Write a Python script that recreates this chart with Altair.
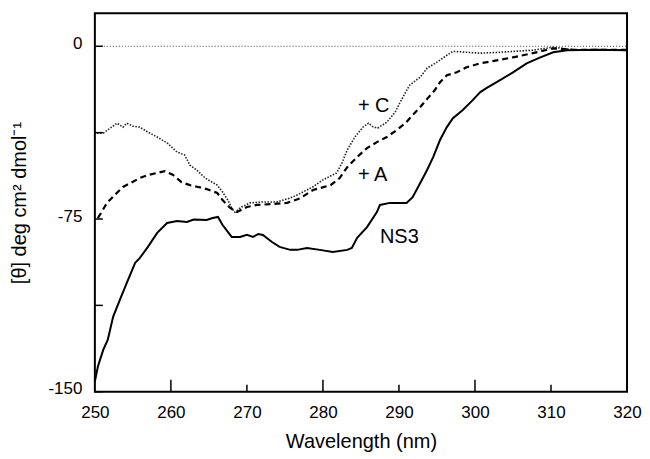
import altair as alt
import pandas as pd

# ---- data ----
wl_ns3 = [250.0, 250.4, 251.1, 251.7, 252.4, 253.3, 254.2, 255.3, 255.9, 257.0, 258.2, 259.5,
          260.8, 262.1, 263.0, 264.7, 265.5, 266.2, 266.8, 268.0, 269.1, 270.0, 270.8, 271.5,
          272.1, 273.3, 274.3, 275.7, 276.6, 277.9, 279.6, 281.3, 283.2, 283.8, 284.5, 285.8,
          287.1, 287.5, 288.8, 291.0, 291.8, 292.8, 293.7, 294.5, 295.4, 296.3, 297.1, 298.4,
          299.7, 300.7, 301.5, 303.3, 305.0, 306.8, 308.6, 310.3, 312.1, 316.0, 320.0]
th_ns3 = [-145.6, -139, -131.8, -127.4, -117.5, -110, -102.7, -94, -92, -87, -81, -76.7,
          -75.9, -76.3, -75.2, -75.4, -74.6, -74.1, -77.6, -82.8, -82.8, -81.9, -82.8, -81.5,
          -81.9, -85, -87.1, -88.4, -88.4, -87.6, -88.4, -89.3, -88.4, -87.6, -83.2, -78.5,
          -72, -68.9, -68, -68, -65.5, -59.4, -53.7, -48.1, -40.7, -35.1, -31.2, -27.7,
          -23.4, -19.9, -18.2, -14.7, -11.3, -7.4, -4.8, -2.6, -1.7, -1.5, -1.7]

wl_a = [250.4, 251.6, 252.6, 253.7, 254.9, 255.9, 257.0, 258.2, 259.2, 260.3, 261.4, 262.5,
        263.6, 264.7, 266.1, 266.8, 267.8, 268.7, 270.0, 271.3, 273.4, 275.3, 277.0, 278.7,
        281.0, 282.2, 283.2, 284.5, 285.8, 287.1, 288.4, 289.7, 291.0, 291.8, 292.8, 293.8,
        294.7, 295.4, 296.3, 297.6, 298.9, 300.7, 301.6, 305.0, 307.6, 310.3, 313.0, 320.0]
th_a = [-74.6, -68, -64.6, -61.1, -59, -57.2, -55.9, -55, -54.2, -55.9, -59, -60.3,
        -61.1, -62, -63.7, -66.8, -70.2, -72, -69.8, -68.9, -68.5, -68, -66, -62.4,
        -60.3, -57.2, -52.5, -48.1, -44.2, -41.6, -39.4, -36.4, -32.9, -29.9, -26.4, -22.5,
        -19.1, -15.6, -12.6, -11.3, -9.1, -7.4, -6.9, -4.8, -3.0, -0.9, -1.5, -1.5]

wl_c = [250.3, 251.1, 252.6, 252.9, 253.7, 254.2, 255.0, 255.9, 257.0, 258.2, 259.5, 260.8,
        261.8, 262.5, 263.4, 264.5, 266.1, 266.8, 267.5, 268.0, 268.4, 269.3, 270.4, 272.1,
        273.9, 275.7, 276.6, 278.7, 280.0, 281.8, 282.5, 283.2, 284.2, 285.3, 286.0, 286.6,
        287.2, 288.4, 289.5, 290.1, 290.8, 291.4, 292.8, 293.7, 295.0, 296.3, 297.1, 298.9,
        300.7, 303.3, 307.6, 310.3, 313.0, 320.0]
th_c = [-37.7, -37.7, -34.2, -33.4, -35.1, -33.4, -34.7, -35.1, -37.3, -39.4, -42, -45.9,
        -47.2, -51.6, -53.7, -57.2, -60.3, -63.3, -66.8, -70.2, -72, -69.8, -68, -67.6,
        -67.6, -65.9, -64.6, -61, -58, -55, -50.7, -45, -39.4, -35, -33.4, -35,
        -35.5, -33, -28.6, -24.7, -20.4, -16.9, -13.4, -9.5, -6.9, -3.9, -2.2, -2.6,
        -3, -2.6, -1.7, -0.4, -1.5, -1.5]

zero_wl = [250, 320]
zero_th = [0, 0]

ann_text = ["+ C", "+ A", "NS3"]
ann_wl = [284.6, 284.6, 287.5]
ann_th = [-26, -55.9, -82.8]

x_label_vals = [250, 260, 270, 280, 290, 300, 310, 320]
x_ticks_major = [260, 280, 300]
x_ticks_minor = [270, 290, 310]
y_label_vals = [0, -75, -150]
y_ticks = [0, -37.5, -75, -112.5, -150]

# ---- chart ----
W, H = 533, 379
FONT = "Liberation Sans"
xs = alt.Scale(domain=[250, 320], nice=False, zero=False)
ys = alt.Scale(domain=[-150, 14.3], nice=False, zero=False)

x_axis = alt.Axis(values=x_label_vals, tickSize=0, ticks=False, domain=False, grid=False,
                  labelPadding=13, labelFontSize=17, labelFont=FONT, labelColor="black",
                  labelFlush=False, labelOverlap=False, labelExpr="'' + datum.value",
                  title="Wavelength (nm)", titleFont=FONT, titleFontSize=20,
                  titleFontWeight="normal", titleColor="black",
                  titleY=40, titleBaseline="top")
y_axis = alt.Axis(values=y_label_vals, tickSize=0, ticks=False, domain=False, grid=False,
                  labelPadding=13, labelFontSize=17, labelFont=FONT, labelColor="black",
                  labelFlush=False, labelOverlap=False, labelOffset=-3,
                  labelExpr="'' + datum.value",
                  title="[θ] deg cm² dmol⁻¹", titleFont=FONT, titleFontSize=20,
                  titleFontWeight="normal", titleColor="black",
                  titleX=-75, titleY=H / 2, titleAngle=270,
                  titleAlign="center", titleBaseline="middle")


def X():
    return alt.X("wl:Q", scale=xs, axis=x_axis)


def Y():
    return alt.Y("th:Q", scale=ys, axis=y_axis)


def line_df(wl, th):
    return pd.DataFrame({"wl": wl, "th": th})


zero = alt.Chart(line_df(zero_wl, zero_th)).mark_line(
    color="#444", strokeWidth=1, strokeDash=[1, 2]
).encode(x=X(), y=Y())

ns3 = alt.Chart(line_df(wl_ns3, th_ns3)).mark_line(
    color="black", strokeWidth=2
).encode(x=X(), y=Y())

plus_a = alt.Chart(line_df(wl_a, th_a)).mark_line(
    color="black", strokeWidth=2.2, strokeDash=[6, 4]
).encode(x=X(), y=Y())

plus_c = alt.Chart(line_df(wl_c, th_c)).mark_line(
    color="#222", strokeWidth=1.6, strokeDash=[1.5, 1.5]
).encode(x=X(), y=Y())

ann = alt.Chart(pd.DataFrame({"t": ann_text, "wl": ann_wl, "th": ann_th})).mark_text(
    align="left", baseline="middle", fontSize=20, font=FONT, color="black"
).encode(x=X(), y=Y(), text="t:N")

xt_major = alt.Chart(pd.DataFrame({"wl": x_ticks_major})).mark_rule(
    color="black", strokeWidth=1.5
).encode(x=X(), y=alt.value(H), y2=alt.value(H - 12))

xt_minor = alt.Chart(pd.DataFrame({"wl": x_ticks_minor})).mark_rule(
    color="black", strokeWidth=1.5
).encode(x=X(), y=alt.value(H), y2=alt.value(H - 7))

yt = alt.Chart(pd.DataFrame({"th": y_ticks})).mark_rule(
    color="black", strokeWidth=1.5
).encode(y=Y(), x=alt.value(0), x2=alt.value(8))

chart = alt.layer(zero, plus_c, plus_a, ns3, ann, xt_major, xt_minor, yt).properties(
    width=W, height=H,
    autosize=alt.AutoSizeParams(type="none"),
    padding={"left": 87, "top": 5, "right": 15, "bottom": 60},
    background="white",
).configure_view(stroke="black", strokeWidth=2)

chart.save("out.html", embed_options={"renderer": "svg", "actions": False})
